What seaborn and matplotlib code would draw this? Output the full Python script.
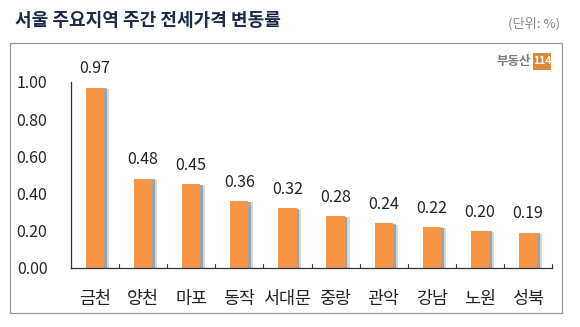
import matplotlib
matplotlib.use("Agg")
import matplotlib.pyplot as plt
import matplotlib.patheffects as pe
from matplotlib.patches import Rectangle
import seaborn as sns
import pandas as pd
import numpy as np

districts = ["금천", "양천", "마포", "동작", "서대문", "중랑", "관악", "강남", "노원", "성북"]
changes = [0.97, 0.48, 0.45, 0.36, 0.32, 0.28, 0.24, 0.22, 0.20, 0.19]
y_ticks = [0.0, 0.2, 0.4, 0.6, 0.8, 1.0]

df = pd.DataFrame({"district": districts, "change": changes})

sns.set_theme(style="white")
plt.rcParams["font.family"] = ["Noto Sans CJK KR", "DejaVu Sans"]

fig = plt.figure(figsize=(5.8, 3.27), dpi=100)
ax = fig.add_axes([71 / 580, 1 - 268 / 327, (552 - 71) / 580, (268 - 82) / 327])

sns.barplot(data=df, x="district", y="change", color="#F79646", width=0.38,
            saturation=1, ax=ax)
for bar in ax.patches:
    bar.set_edgecolor("none")
    bar.set_path_effects([
        pe.SimplePatchShadow(offset=(3.5, -1), shadow_rgbFace="#b0b0b0", alpha=0.5),
        pe.SimplePatchShadow(offset=(2, -0.5), shadow_rgbFace="#8c8c8c", alpha=0.7),
        pe.Normal(),
    ])

for i, v in enumerate(changes):
    ax.text(i, v + 0.055, f"{v:.2f}", ha="center", va="bottom", fontsize=11.5,
            color="#222222", clip_on=False)

ax.set_ylim(0, 1.0)
ax.set_xlim(-0.5, len(districts) - 0.5)
ax.set_yticks(y_ticks)
ax.set_yticklabels([f"{t:.2f}" for t in y_ticks], fontsize=11.5, color="#222222")
ax.set_xticks(np.arange(len(districts)))
ax.set_xticklabels(districts, fontsize=12.5, color="#222222")
ax.tick_params(axis="x", length=0, pad=16)
ax.tick_params(axis="y", direction="in", length=5, width=0.8, color="#333333", pad=17)

# boundary ticks between categories on the x axis, including the right end
for b in np.arange(0.5, len(districts) - 0.5 + 1e-9, 1.0):
    ax.plot([b, b], [0, 0.022], color="#333333", lw=0.8, clip_on=False)

ax.set_xlabel("")
ax.set_ylabel("")
for s in ["top", "right"]:
    ax.spines[s].set_visible(False)
for s in ["left", "bottom"]:
    ax.spines[s].set_color("#333333")
    ax.spines[s].set_linewidth(0.9)

# outer frame
fig.patches.append(Rectangle((10 / 580, 1 - 313 / 327), (562 - 10) / 580, (313 - 43) / 327,
                             transform=fig.transFigure, fill=False, edgecolor="#9a9a9a", lw=0.9))

fig.text(15 / 580, 1 - 21 / 327, "서울 주요지역 주간 전세가격 변동률", fontsize=13,
         fontweight="bold", color="#1c2b4a", va="center", ha="left")
fig.text(560 / 580, 1 - 24 / 327, "(단위: %)", fontsize=9.5, color="#888888",
         va="center", ha="right")

# logo
fig.text(531 / 580, 1 - 61 / 327, "부동산", fontsize=9, fontweight="bold",
         color="#7a7a7a", va="center", ha="right")
fig.patches.append(Rectangle((533 / 580, 1 - 70 / 327), 18 / 580, 17 / 327,
                             transform=fig.transFigure, facecolor="#D98A3A", edgecolor="none"))
fig.text(542 / 580, 1 - 61.5 / 327, "114", fontsize=7.5, fontweight="bold",
         color="white", va="center", ha="center")

fig.savefig("out.png", dpi=100)
